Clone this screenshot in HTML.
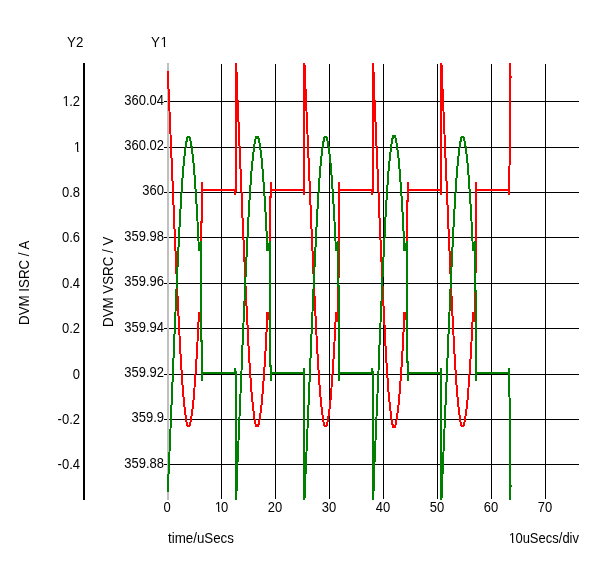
<!DOCTYPE html>
<html><head><meta charset="utf-8"><style>
html,body{margin:0;padding:0;background:#fff;}
body{width:600px;height:563px;position:relative;overflow:hidden;font-family:"Liberation Sans",Arial,sans-serif;font-size:13.33px;color:#000;}
.t{position:absolute;white-space:nowrap;line-height:16px;transform:scaleY(1.1);transform-origin:0 12px;}
.n{font-size:13px;}
.o{display:inline-block;clip-path:polygon(0 0,100% 0,100% 11px,4.8px 11px,4.8px 100%,3.5px 100%,3.5px 11px,0 11px);}
.r1{right:436px;text-align:right;}
.r2{right:520px;text-align:right;}
.xl{top:500px;width:60px;text-align:center;}
svg{position:absolute;left:0;top:0;}
.rot{position:absolute;transform-origin:0 0;transform:rotate(-90deg) scaleY(1.1);white-space:nowrap;line-height:16px;}
</style></head><body>
<svg width="600" height="563" viewBox="0 0 600 563" shape-rendering="crispEdges">
<defs><clipPath id="c"><rect x="0" y="63" width="600" height="437"/></clipPath></defs>
<rect x="164" y="101" width="415" height="1" fill="#000"/><rect x="164" y="147" width="415" height="1" fill="#000"/><rect x="164" y="192" width="415" height="1" fill="#000"/><rect x="164" y="237" width="415" height="1" fill="#000"/><rect x="164" y="283" width="415" height="1" fill="#000"/><rect x="164" y="328" width="415" height="1" fill="#000"/><rect x="164" y="374" width="415" height="1" fill="#000"/><rect x="164" y="419" width="415" height="1" fill="#000"/><rect x="164" y="464" width="415" height="1" fill="#000"/><rect x="221" y="64" width="1" height="435" fill="#000"/><rect x="275" y="64" width="1" height="435" fill="#000"/><rect x="329" y="64" width="1" height="435" fill="#000"/><rect x="383" y="64" width="1" height="435" fill="#000"/><rect x="437" y="64" width="1" height="435" fill="#000"/><rect x="491" y="64" width="1" height="435" fill="#000"/><rect x="545" y="64" width="1" height="435" fill="#000"/>
<rect x="83" y="63" width="2" height="437" fill="#000"/>
<rect x="167" y="63" width="2" height="437" fill="#c0c0c0"/>
<g clip-path="url(#c)" fill="none" stroke-width="2" stroke-linejoin="miter" stroke-linecap="butt">
<polyline points="168.000,71.00 168.300,84.00 169.000,100.00 170.000,122.00 171.000,146.00 172.000,169.00 173.000,192.00 174.000,217.50 175.000,240.00 176.000,262.00 177.000,286.00 178.000,306.00 179.000,325.00 180.000,345.50 181.000,362.50 182.000,377.50 183.000,391.50 184.000,402.00 185.000,411.00 186.000,419.00 187.000,424.00 187.600,426.00 189.400,426.00 190.000,424.50 191.000,420.00 192.000,413.00 193.000,405.00 194.000,394.50 195.000,381.00 196.000,367.50 197.000,351.50 198.000,332.00 199.000,312.00 201.000,322.00 201.000,222.00 202.000,222.00 202.000,182.00 202.500,190.00 234.500,190.00 235.000,195.00 236.000,190.00 236.100,60.00 236.500,71.00 236.800,84.00 237.500,100.00 238.500,122.00 239.500,146.00 240.500,169.00 241.500,192.00 242.500,217.50 243.500,240.00 244.500,262.00 245.500,286.00 246.500,306.00 247.500,325.00 248.500,345.50 249.500,362.50 250.500,377.50 251.500,391.50 252.500,402.00 253.500,411.00 254.500,419.00 255.500,424.00 256.100,426.00 257.900,426.00 258.500,424.50 259.500,420.00 260.500,413.00 261.500,405.00 262.500,394.50 263.500,381.00 264.500,367.50 265.500,351.50 266.500,332.00 267.500,312.00 270.000,322.00 270.000,197.00 271.000,197.00 271.000,182.00 271.500,190.00 303.500,190.00 304.000,195.00 304.000,190.00 304.100,60.00 305.000,71.00 305.300,84.00 306.000,100.00 307.000,122.00 308.000,146.00 309.000,169.00 310.000,192.00 311.000,217.50 312.000,240.00 313.000,262.00 314.000,286.00 315.000,306.00 316.000,325.00 317.000,345.50 318.000,362.50 319.000,377.50 320.000,391.50 321.000,402.00 322.000,411.00 323.000,419.00 324.000,424.00 324.600,426.00 326.400,426.00 327.000,424.50 328.000,420.00 329.000,413.00 330.000,405.00 331.000,394.50 332.000,381.00 333.000,367.50 334.000,351.50 335.000,332.00 336.000,312.00 338.000,322.00 338.000,277.00 339.000,277.00 339.000,182.00 339.500,190.00 371.500,190.00 372.000,195.00 373.000,190.00 373.100,60.00 373.500,71.00 373.800,84.00 374.500,100.00 375.500,122.00 376.500,146.00 377.500,169.00 378.500,192.00 379.500,217.50 380.500,240.00 381.500,262.00 382.500,286.00 383.500,306.00 384.500,325.00 385.500,345.50 386.500,362.50 387.500,377.50 388.500,391.50 389.500,402.00 390.500,411.00 391.500,419.00 392.500,424.50 393.100,427.00 394.900,427.00 395.500,425.00 396.500,420.00 397.500,413.00 398.500,405.00 399.500,394.50 400.500,381.00 401.500,367.50 402.500,351.50 403.500,332.00 404.500,312.00 407.000,322.00 407.000,201.00 408.000,201.00 408.000,182.00 408.500,190.00 440.500,190.00 441.000,195.00 441.000,190.00 441.100,60.00 442.000,71.00 442.300,84.00 443.000,100.00 444.000,122.00 445.000,146.00 446.000,169.00 447.000,192.00 448.000,217.50 449.000,240.00 450.000,262.00 451.000,286.00 452.000,306.00 453.000,325.00 454.000,345.50 455.000,362.50 456.000,377.50 457.000,391.50 458.000,402.00 459.000,411.00 460.000,419.00 461.000,424.00 461.600,426.00 463.400,426.00 464.000,424.50 465.000,420.00 466.000,413.00 467.000,405.00 468.000,394.50 469.000,381.00 470.000,367.50 471.000,351.50 472.000,332.00 473.000,312.00 475.000,322.00 475.000,272.00 476.000,272.00 476.000,182.00 476.500,190.00 508.500,190.00 509.000,195.00 509.000,190.00 509.500,166.00 510.000,143.00 510.000,-137.00 510.000,74.00 511.000,78.00" stroke="#ff0000"/>
<polyline points="168.000,492.00 168.300,479.00 169.000,463.00 170.000,441.00 171.000,417.00 172.000,394.00 173.000,371.00 174.000,345.50 175.000,323.00 176.000,301.00 177.000,277.00 178.000,257.00 179.000,238.00 180.000,217.50 181.000,200.50 182.000,185.50 183.000,171.50 184.000,161.00 185.000,152.00 186.000,144.00 187.000,139.00 187.600,137.00 189.400,137.00 190.000,138.50 191.000,143.00 192.000,150.00 193.000,158.00 194.000,168.50 195.000,182.00 196.000,195.50 197.000,211.50 198.000,231.00 199.000,251.00 201.000,241.00 201.000,341.00 202.000,341.00 202.000,381.00 202.500,373.00 234.500,373.00 235.000,368.00 236.000,373.00 236.100,503.00 236.500,492.00 236.800,479.00 237.500,463.00 238.500,441.00 239.500,417.00 240.500,394.00 241.500,371.00 242.500,345.50 243.500,323.00 244.500,301.00 245.500,277.00 246.500,257.00 247.500,238.00 248.500,217.50 249.500,200.50 250.500,185.50 251.500,171.50 252.500,161.00 253.500,152.00 254.500,144.00 255.500,139.00 256.100,137.00 257.900,137.00 258.500,138.50 259.500,143.00 260.500,150.00 261.500,158.00 262.500,168.50 263.500,182.00 264.500,195.50 265.500,211.50 266.500,231.00 267.500,251.00 270.000,241.00 270.000,366.00 271.000,366.00 271.000,381.00 271.500,373.00 303.500,373.00 304.000,368.00 304.000,373.00 304.100,503.00 305.000,492.00 305.300,479.00 306.000,463.00 307.000,441.00 308.000,417.00 309.000,394.00 310.000,371.00 311.000,345.50 312.000,323.00 313.000,301.00 314.000,277.00 315.000,257.00 316.000,238.00 317.000,217.50 318.000,200.50 319.000,185.50 320.000,171.50 321.000,161.00 322.000,152.00 323.000,144.00 324.000,139.00 324.600,137.00 326.400,137.00 327.000,138.50 328.000,143.00 329.000,150.00 330.000,158.00 331.000,168.50 332.000,182.00 333.000,195.50 334.000,211.50 335.000,231.00 336.000,251.00 338.000,241.00 338.000,286.00 339.000,286.00 339.000,381.00 339.500,373.00 371.500,373.00 372.000,368.00 373.000,373.00 373.100,503.00 373.500,492.00 373.800,479.00 374.500,463.00 375.500,441.00 376.500,417.00 377.500,394.00 378.500,371.00 379.500,345.50 380.500,323.00 381.500,301.00 382.500,277.00 383.500,257.00 384.500,238.00 385.500,217.50 386.500,200.50 387.500,185.50 388.500,171.50 389.500,161.00 390.500,152.00 391.500,144.00 392.500,138.50 393.100,136.00 394.900,136.00 395.500,138.00 396.500,143.00 397.500,150.00 398.500,158.00 399.500,168.50 400.500,182.00 401.500,195.50 402.500,211.50 403.500,231.00 404.500,251.00 407.000,241.00 407.000,362.00 408.000,362.00 408.000,381.00 408.500,373.00 440.500,373.00 441.000,368.00 441.000,373.00 441.100,503.00 442.000,492.00 442.300,479.00 443.000,463.00 444.000,441.00 445.000,417.00 446.000,394.00 447.000,371.00 448.000,345.50 449.000,323.00 450.000,301.00 451.000,277.00 452.000,257.00 453.000,238.00 454.000,217.50 455.000,200.50 456.000,185.50 457.000,171.50 458.000,161.00 459.000,152.00 460.000,144.00 461.000,139.00 461.600,137.00 463.400,137.00 464.000,138.50 465.000,143.00 466.000,150.00 467.000,158.00 468.000,168.50 469.000,182.00 470.000,195.50 471.000,211.50 472.000,231.00 473.000,251.00 475.000,241.00 475.000,291.00 476.000,291.00 476.000,381.00 476.500,373.00 508.500,373.00 509.000,368.00 509.000,373.00 509.500,397.00 510.000,420.00 510.000,700.00 510.000,489.00 511.000,485.00" stroke="#008000"/>
</g>
</svg>
<div class="t" style="left:67px;top:35px">Y2</div>
<div class="t" style="left:151px;top:35px">Y<span class="o" style="margin-left:0.5px">1</span></div>
<div class="t n r1" style="top:93px">360.04</div><div class="t n r1" style="top:138px">360.02</div><div class="t n r1" style="top:183px">360</div><div class="t n r1" style="top:229px">359.98</div><div class="t n r1" style="top:274px">359.96</div><div class="t n r1" style="top:320px">359.94</div><div class="t n r1" style="top:365px">359.92</div><div class="t n r1" style="top:410px">359.9</div><div class="t n r1" style="top:456px">359.88</div><div class="t n r2" style="top:94px"><span class="o" style="position:relative;left:0.5px">1</span>.2</div><div class="t n r2" style="top:140px"><span class="o" style="position:relative;left:1px">1</span></div><div class="t n r2" style="top:185px">0.8</div><div class="t n r2" style="top:230px">0.6</div><div class="t n r2" style="top:276px">0.4</div><div class="t n r2" style="top:321px">0.2</div><div class="t n r2" style="top:367px">0</div><div class="t n r2" style="top:412px">-0.2</div><div class="t n r2" style="top:457px">-0.4</div><div class="t n xl" style="left:137px">0</div><div class="t n xl" style="left:191px"><span class="o" style="position:relative;left:1px">1</span>0</div><div class="t n xl" style="left:245px">20</div><div class="t n xl" style="left:299px">30</div><div class="t n xl" style="left:353px">40</div><div class="t n xl" style="left:407px">50</div><div class="t n xl" style="left:461px">60</div><div class="t n xl" style="left:515px">70</div>
<div class="rot" style="left:16px;top:325px">DVM ISRC / A</div>
<div class="rot" style="left:100px;top:327px">DVM VSRC / V</div>
<div class="t" style="left:168px;top:531px">time/uSecs</div>
<div class="t" style="right:21px;top:531px;font-size:13px"><span class="o" style="position:relative;left:0.5px">1</span>0uSecs/div</div>
</body></html>
